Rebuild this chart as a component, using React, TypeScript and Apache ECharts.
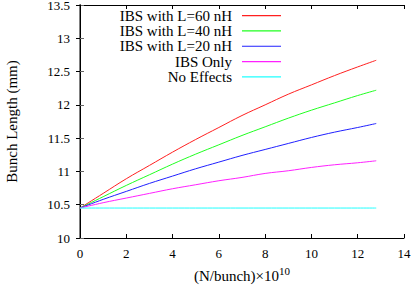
import React, { useEffect, useRef } from "react";
import * as echarts from "echarts";

const xValues = [0, 1, 2, 3, 4, 5, 6, 7, 8, 9, 10, 11, 12, 12.8];
const ibs60 = [10.45, 10.67, 10.89, 11.09, 11.29, 11.48, 11.66, 11.84, 12.0, 12.16, 12.3, 12.44, 12.57, 12.67];
const ibs40 = [10.45, 10.62, 10.79, 10.95, 11.11, 11.26, 11.4, 11.54, 11.67, 11.8, 11.92, 12.03, 12.14, 12.22];
const ibs20 = [10.45, 10.58, 10.7, 10.82, 10.93, 11.04, 11.14, 11.24, 11.33, 11.42, 11.51, 11.59, 11.66, 11.72];
const ibsOnly = [10.45, 10.53, 10.6, 10.67, 10.74, 10.8, 10.86, 10.91, 10.97, 11.01, 11.06, 11.1, 11.13, 11.16];
const noEffects = [10.45, 10.45, 10.45, 10.45, 10.45, 10.45, 10.45, 10.45, 10.45, 10.45, 10.45, 10.45, 10.45, 10.45];

const seriesNames = ["IBS with L=60 nH", "IBS with L=40 nH", "IBS with L=20 nH", "IBS Only", "No Effects"];
const seriesValues = [ibs60, ibs40, ibs20, ibsOnly, noEffects];
const seriesColors = ["#ff2020", "#20ff20", "#2020ff", "#ff20ff", "#20ffff"];

const FONT = "'Liberation Serif', 'DejaVu Serif', serif";

export default function App() {
  const ref = useRef<HTMLDivElement>(null);
  useEffect(() => {
    if (!ref.current) return;
    const chart = echarts.init(ref.current, null, { renderer: "svg" });
    const tickLabel = { color: "#000", fontFamily: FONT, fontSize: 13 };
    chart.setOption({
      animation: false,
      backgroundColor: "#fff",
      textStyle: { fontFamily: FONT, color: "#000" },
      grid: { left: 80, right: 11, top: 5, bottom: 47, containLabel: false, outerBoundsMode: "none" },
      legend: {
        orient: "vertical",
        align: "right",
        right: 134,
        top: 8,
        padding: 0,
        itemGap: 0,
        itemWidth: 39,
        itemHeight: 1.2,
        icon: "rect",
        textStyle: { color: "#000", fontFamily: FONT, fontSize: 15, lineHeight: 15.3, padding: [0, 5, 0, 0] },
        data: seriesNames,
      },
      xAxis: [
        {
          type: "value",
          min: 0,
          max: 14,
          interval: 2,
          position: "bottom",
          name: "(N/bunch)×10{sup|10}",
          nameLocation: "middle",
          nameGap: 27,
          nameTextStyle: {
            color: "#000",
            fontFamily: FONT,
            fontSize: 15,
            rich: { sup: { fontSize: 11, fontFamily: FONT, color: "#000", verticalAlign: "top", padding: [0, 0, 10, 0] } },
          },
          axisLine: { show: true, lineStyle: { color: "#000", width: 1 } },
          axisTick: { show: true, inside: true, length: 4, lineStyle: { color: "#000" } },
          axisLabel: { ...tickLabel, margin: 9 },
          splitLine: { show: false },
        },
        {
          type: "value",
          min: 0,
          max: 14,
          interval: 2,
          position: "top",
          axisLine: { show: true, lineStyle: { color: "#000", width: 1 } },
          axisTick: { show: true, inside: true, length: 4, lineStyle: { color: "#000" } },
          axisLabel: { show: false },
          splitLine: { show: false },
        },
      ],
      yAxis: [
        {
          type: "value",
          min: 10,
          max: 13.5,
          interval: 0.5,
          position: "left",
          name: "Bunch Length (mm)",
          nameLocation: "middle",
          nameGap: 61,
          nameTextStyle: { color: "#000", fontFamily: FONT, fontSize: 15 },
          axisLine: { show: true, lineStyle: { color: "#808080", width: 2 } },
          axisTick: { show: true, inside: true, length: 4, lineStyle: { color: "#666" } },
          axisLabel: { ...tickLabel, margin: 10, lineHeight: 12, padding: [2, 0, 0, 0] },
          splitLine: { show: false },
        },
        {
          type: "value",
          min: 10,
          max: 13.5,
          interval: 0.5,
          position: "right",
          axisLine: { show: true, lineStyle: { color: "#000", width: 1 } },
          axisTick: { show: true, inside: true, length: 4, lineStyle: { color: "#000" } },
          axisLabel: { show: false },
          splitLine: { show: false },
        },
      ],
      series: seriesNames.map((name, i) => ({
        name,
        type: "line",
        xAxisIndex: 0,
        yAxisIndex: 0,
        showSymbol: false,
        symbol: "none",
        smooth: 0.4,
        color: seriesColors[i],
        lineStyle: { color: seriesColors[i], width: 1 },
        data: xValues.map((x, j) => [x, seriesValues[i][j]]),
      })),
    });
    return () => chart.dispose();
  }, []);
  return (
    <div
      ref={ref}
      style={{ position: "absolute", left: 0, top: 0, width: 415, height: 285, background: "#fff" }}
    />
  );
}
